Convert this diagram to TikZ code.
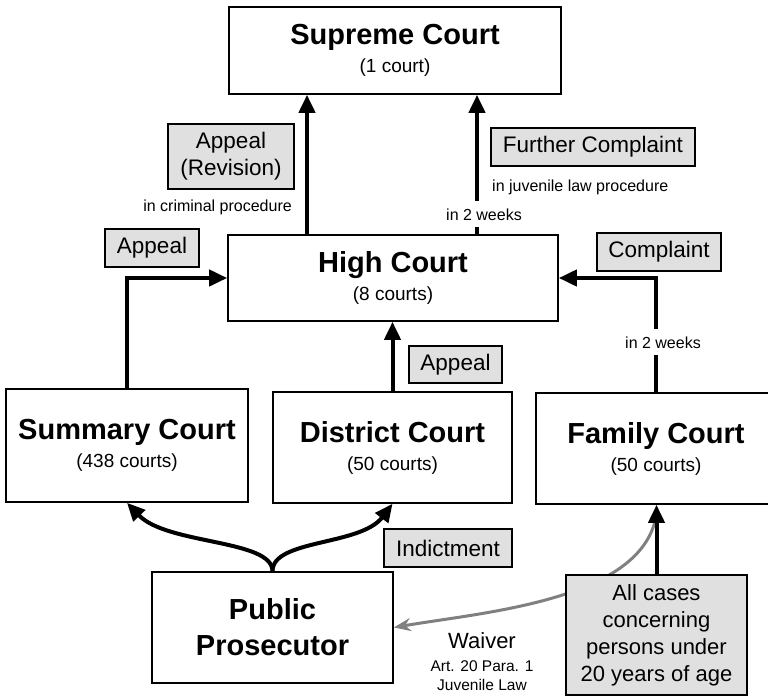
\documentclass[tikz,border=0pt]{standalone}
\usepackage{fontspec}
\setmainfont{Liberation Sans}
\usetikzlibrary{arrows.meta}
\newcommand{\courtcount}[1]{{\mdseries\fontsize{19}{22}\selectfont #1}}

\begin{document}
\begin{tikzpicture}[x=1pt,y=-1pt]
  \tikzstyle{court}=[draw,line width=1.6pt,fill=white,align=center,font=\fontsize{29}{28}\selectfont\bfseries]
  \tikzstyle{tag}=[draw,line width=1.2pt,fill=black!12,align=center,inner sep=0pt,font=\fontsize{22.5}{27}\selectfont]
  \tikzstyle{note}=[font=\fontsize{16}{18}\selectfont,inner sep=1pt]
  \tikzstyle{flow}=[line width=4pt,-{Triangle[length=18pt,width=16pt]}]
  \tikzstyle{waive}=[line width=3pt,draw=black!50,-{Stealth[length=17pt,width=13pt]}]
  \clip (0,0) rectangle (768,696);
  % courts
  \node[court,minimum width=332pt,minimum height=87pt] (supreme) at (395,50.5) {Supreme Court\\\courtcount{(1 court)}};
  \node[court,minimum width=330pt,minimum height=86pt] (high) at (393,278) {High Court\\\courtcount{(8 courts)}};
  \node[court,minimum width=242pt,minimum height=113pt] (summary) at (127,445.5) {Summary Court\\\courtcount{(438 courts)}};
  \node[court,minimum width=239pt,minimum height=111pt] (district) at (392.5,447.5) {District Court\\\courtcount{(50 courts)}};
  \node[court,minimum width=240pt,minimum height=111pt] (family) at (656,448.5) {Family Court\\\courtcount{(50 courts)}};
  \node[court,font=\fontsize{29}{36}\selectfont\bfseries,minimum width=241pt,minimum height=111pt] (pp) at (272.5,627.5) {Public\\Prosecutor};
  % remedies
  \node[tag,minimum width=126pt,minimum height=65pt] (revision) at (231,156.5) {Appeal\\(Revision)};
  \node[note,anchor=base east] (crim) at (293,211) {in criminal procedure};
  \node[tag,minimum width=204pt,minimum height=38pt] (further) at (593,147) {Further Complaint};
  \node[note,anchor=base west] (juv) at (491,191) {in juvenile law procedure};
  \node[tag,minimum width=94pt,minimum height=38pt] (appealL) at (152,248) {Appeal};
  \node[tag,minimum width=124pt,minimum height=38pt] (complaint) at (659,252) {Complaint};
  \node[tag,minimum width=93pt,minimum height=37pt] (appealM) at (455.5,364.5) {Appeal};
  \node[tag,minimum width=128pt,minimum height=38pt] (indict) at (448,548) {Indictment};
  % arrows
  \draw[flow] ([xshift=-86pt]high.north) -- ([xshift=-86pt]high.north |- supreme.south);
  \draw[flow] ([xshift=84pt]high.north) -- ([xshift=84pt]high.north |- supreme.south);
  \draw[flow] (summary.north) |- (high.west);
  \draw[flow] (family.north) |- (high.east);
  \draw[flow] (district.north) -- (district.north |- high.south);
  \draw[flow] (pp.north) .. controls +(0,-32) and +(40,42) .. (summary.south);
  \draw[flow] (pp.north) .. controls +(0,-32) and +(-32,42) .. (district.south);
  \node[note,fill=white,inner ysep=7pt,anchor=base] (weeksT) at (484,220) {in 2 weeks};
  \node[note,fill=white,inner ysep=7pt,anchor=base] (weeksR) at (663,348) {in 2 weeks};
  % waiver
  \coordinate (wvstart) at ([yshift=-12pt]family.south);
  \draw[waive] (wvstart) .. controls +(-16,84) and +(90,-15.5) .. (pp.east);
  \node[tag,minimum width=181pt,minimum height=120pt,font=\fontsize{22}{27}\selectfont] (young) at (656.5,635) {All cases\\concerning\\persons under\\20 years of age};
  \draw[flow] (young.north) -- (young.north |- family.south);
  \node[anchor=base,font=\fontsize{22}{24}\selectfont,inner sep=0pt] (waiver) at (482,648) {Waiver};
  \node[anchor=base,font=\fontsize{15.5}{17}\selectfont,inner sep=0pt] (art) at (482,671) {Art. 20 Para. 1};
  \node[anchor=base,font=\fontsize{15.5}{17}\selectfont,inner sep=0pt] (juvlaw) at (482,690) {Juvenile Law};
\end{tikzpicture}
\end{document}
